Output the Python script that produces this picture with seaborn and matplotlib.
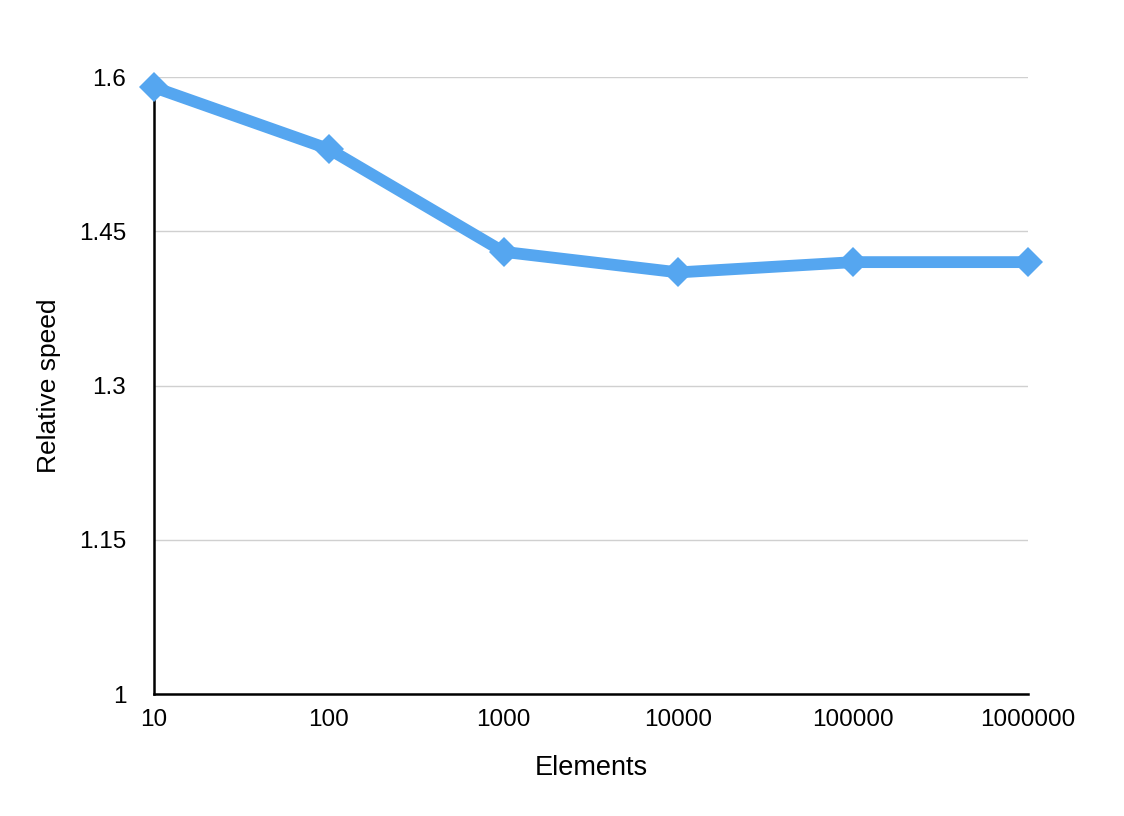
import matplotlib
matplotlib.use("Agg")
import matplotlib.pyplot as plt
import seaborn as sns
import pandas as pd

elements = ["10", "100", "1000", "10000", "100000", "1000000"]
relative_speed = [1.59, 1.53, 1.43, 1.41, 1.42, 1.42]
y_ticks = [1.0, 1.15, 1.3, 1.45, 1.6]
y_tick_labels = ["1", "1.15", "1.3", "1.45", "1.6"]

sns.set_style("white")
plt.rcParams["font.family"] = ["Liberation Sans", "DejaVu Sans"]

df = pd.DataFrame({"Elements": elements, "Relative speed": relative_speed})

fig = plt.figure(figsize=(11.24, 8.16), dpi=100)
ax = fig.add_axes([0.137, 0.1495, 0.7776, 0.7561])

sns.lineplot(data=df, x="Elements", y="Relative speed", ax=ax, color="#55A6F0",
             linewidth=8.5, marker="D", markersize=15, markeredgewidth=0,
             sort=False, clip_on=False, zorder=5)

ax.set_xlim(0, 5)
ax.set_ylim(1.0, 1.6)
ax.set_yticks(y_ticks)
ax.set_yticklabels(y_tick_labels)
ax.yaxis.grid(True, color="#d0d0d0", linewidth=1)
ax.xaxis.grid(False)
ax.set_axisbelow(True)

for s in ["top", "right"]:
    ax.spines[s].set_visible(False)
for s in ["left", "bottom"]:
    ax.spines[s].set_color("black")
    ax.spines[s].set_linewidth(1.8)
    ax.spines[s].set_zorder(3)

ax.tick_params(axis="both", length=0, labelsize=17.5, colors="black")
ax.tick_params(axis="x", pad=11)
ax.tick_params(axis="y", pad=20)

ax.set_xlabel("Elements", fontsize=19.5, labelpad=17, color="black")
ax.set_ylabel("Relative speed", fontsize=19, labelpad=13, color="black")

fig.savefig("out.png", dpi=100)
